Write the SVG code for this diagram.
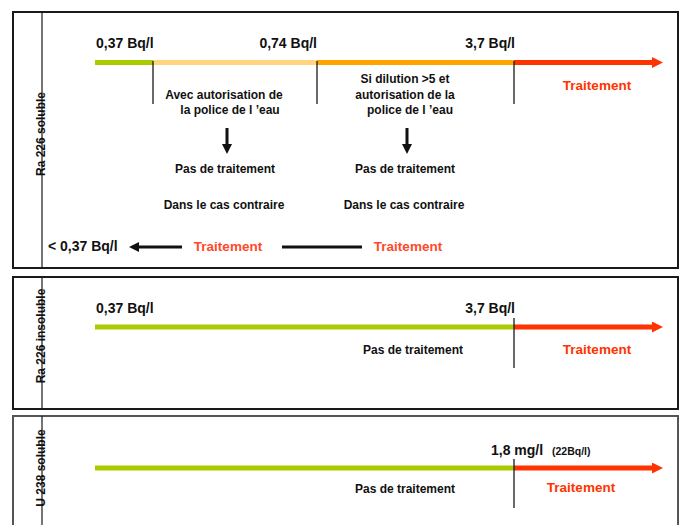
<svg xmlns="http://www.w3.org/2000/svg" width="680" height="525" viewBox="0 0 680 525">
  <style>
    .frame { fill: #ffffff; stroke: #1a1a1a; stroke-width: 2; }
    .divider { stroke: #1a1a1a; stroke-width: 1.2; }
    .tick { stroke: #1a1a1a; stroke-width: 1.3; }
    .bar { stroke-width: 5; fill: none; }
    .t { font-family: "Liberation Sans", Arial, sans-serif; font-weight: bold; fill: #111111; }
    .val { font-size: 14px; }
    .body { font-size: 12px; text-anchor: middle; }
    .side { font-size: 12px; text-anchor: middle; }
    .red { fill: #ff3300; font-size: 13.5px; text-anchor: middle; }
    .red2 { fill: #ff4a2a; font-size: 13.5px; text-anchor: middle; }
    .blk { stroke: #111111; stroke-width: 3; fill: none; }
  </style>
  <defs>
    <marker id="redHead" markerWidth="11" markerHeight="11" viewBox="0 0 10 10" refX="0" refY="5" markerUnits="userSpaceOnUse" orient="auto">
      <polygon points="0,0 10,5 0,10" fill="#ff3300"/>
    </marker>
    <marker id="blackHead" markerWidth="10" markerHeight="10" viewBox="0 0 10 10" refX="0" refY="5" markerUnits="userSpaceOnUse" orient="auto">
      <polygon points="0,0 10,5 0,10" fill="#111111"/>
    </marker>
  </defs>

  <rect width="680" height="525" fill="#ffffff"/>

  <!-- Ra 226 soluble -->
  <g id="panel-ra226-soluble">
    <rect class="frame" x="13" y="12" width="665" height="256"/>
    <line class="divider" x1="42" y1="12" x2="42" y2="268"/>
    <text class="t side" transform="translate(45,134) rotate(-90)">Ra 226 soluble</text>
  </g>

  <!-- Ra 226 insoluble -->
  <g id="panel-ra226-insoluble">
    <rect class="frame" x="13" y="277" width="665" height="132"/>
    <line class="divider" x1="42" y1="277" x2="42" y2="409"/>
    <text class="t side" transform="translate(45,336) rotate(-90)">Ra 226 insoluble</text>
  </g>

  <!-- U 238 soluble -->
  <g id="panel-u238-soluble">
    <path class="frame" d="M13,526 V416 H678 V526" style="stroke:#555555"/>
    <line class="divider" x1="42" y1="416" x2="42" y2="525"/>
    <text class="t side" transform="translate(45,468) rotate(-90)">U 238 soluble</text>
  </g>

  <!-- scale bars, ticks and arrows -->
  <g id="connectors">
    <!-- row 1 -->
    <line class="bar" x1="95" y1="62.5" x2="153" y2="62.5" stroke="#a8cc00"/>
    <line class="bar" x1="153" y1="62.5" x2="317" y2="62.5" stroke="#ffd580"/>
    <line class="bar" x1="317" y1="62.5" x2="514" y2="62.5" stroke="#ffa500"/>
    <line class="bar" x1="514" y1="62.5" x2="652" y2="62.5" stroke="#ff3300" marker-end="url(#redHead)"/>
    <line class="tick" x1="153" y1="61" x2="153" y2="104"/>
    <line class="tick" x1="317" y1="61" x2="317" y2="104"/>
    <line class="tick" x1="514" y1="61" x2="514" y2="104"/>
    <line class="blk" x1="227" y1="128" x2="227" y2="144" marker-end="url(#blackHead)"/>
    <line class="blk" x1="407" y1="128" x2="407" y2="144" marker-end="url(#blackHead)"/>
    <line class="blk" x1="182" y1="247" x2="139" y2="247" marker-end="url(#blackHead)"/>
    <line class="blk" x1="282" y1="247" x2="362" y2="247"/>

    <!-- row 2 -->
    <line class="bar" x1="95" y1="327" x2="514" y2="327" stroke="#a8cc00"/>
    <line class="bar" x1="514" y1="327" x2="652" y2="327" stroke="#ff3300" marker-end="url(#redHead)"/>
    <line class="tick" x1="514" y1="318" x2="514" y2="368"/>

    <!-- row 3 -->
    <line class="bar" x1="95" y1="468" x2="514" y2="468" stroke="#a8cc00"/>
    <line class="bar" x1="514" y1="468" x2="652" y2="468" stroke="#ff3300" marker-end="url(#redHead)"/>
    <line class="tick" x1="514" y1="459" x2="514" y2="508"/>
  </g>

  <!-- thresholds and decisions, row 1 -->
  <g id="row1-labels">
    <text class="t val" x="96" y="48">0,37 Bq/l</text>
    <text class="t val" x="317" y="48" text-anchor="end">0,74 Bq/l</text>
    <text class="t val" x="515" y="48" text-anchor="end">3,7 Bq/l</text>
    <text class="t body" x="224" y="99">Avec autorisation de</text>
    <text class="t body" x="230" y="114">la police de l  ’eau</text>
    <text class="t body" x="405" y="83">Si dilution &gt;5 et</text>
    <text class="t body" x="405" y="99">autorisation de la</text>
    <text class="t body" x="410" y="114">police de l  ’eau</text>
    <text class="t red" x="597" y="90">Traitement</text>
    <text class="t body" x="225" y="173">Pas de traitement</text>
    <text class="t body" x="405" y="173">Pas de traitement</text>
    <text class="t body" x="224" y="209">Dans le cas contraire</text>
    <text class="t body" x="404" y="209">Dans le cas contraire</text>
    <text class="t val" x="48" y="251">&lt; 0,37 Bq/l</text>
    <text class="t red2" x="228" y="251">Traitement</text>
    <text class="t red2" x="408" y="251">Traitement</text>
  </g>

  <!-- row 2 -->
  <g id="row2-labels">
    <text class="t val" x="96" y="313">0,37 Bq/l</text>
    <text class="t val" x="515" y="313" text-anchor="end">3,7 Bq/l</text>
    <text class="t body" x="413" y="354">Pas de traitement</text>
    <text class="t red" x="597" y="354">Traitement</text>
  </g>

  <!-- row 3 -->
  <g id="row3-labels">
    <text class="t val" x="491" y="455">1,8 mg/l</text>
    <text class="t" x="552" y="455" font-size="10.5">(22Bq/l)</text>
    <text class="t body" x="405" y="493">Pas de traitement</text>
    <text class="t red" x="581" y="492">Traitement</text>
  </g>
</svg>
